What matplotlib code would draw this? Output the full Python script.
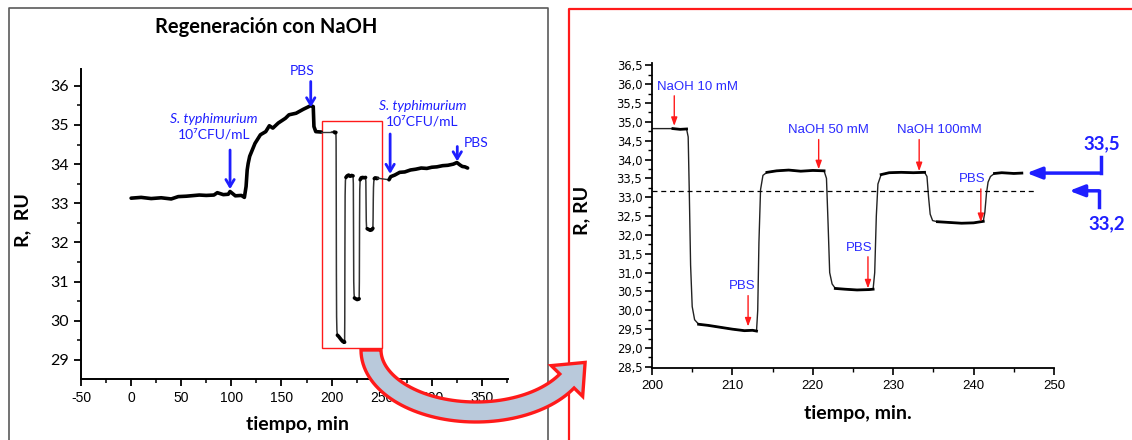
import numpy as np
import matplotlib
matplotlib.use("Agg")
import matplotlib.pyplot as plt
from matplotlib.patches import Rectangle, Polygon
from matplotlib.lines import Line2D
from matplotlib.ticker import MultipleLocator, FuncFormatter

plt.rcParams["axes.unicode_minus"] = False

# --- data ---
# full run, before regeneration (min, RU)
base_t = [0, 10, 20, 30, 40, 47, 55, 68, 75, 82.6, 86, 92, 96.9, 98.7, 104, 110, 113,
          114.7, 115.8, 116.8, 118.3, 123.6, 129, 134.3, 137.9, 141.4, 146.8, 153.9,
          157.5, 164.6, 171.7, 178.9, 181.7, 182.4, 184.2, 189.6]
base_r = [33.13, 33.15, 33.12, 33.14, 33.11, 33.17, 33.18, 33.21, 33.2, 33.21, 33.27,
          33.22, 33.23, 33.3, 33.19, 33.2, 33.15, 33.43, 33.85, 34.02, 34.2, 34.53,
          34.75, 34.83, 34.98, 34.92, 35.05, 35.17, 35.26, 35.3, 35.4, 35.49, 35.47,
          34.96, 34.83, 34.82]

# regeneration cycles (zoomed panel)
regen_t = [200.0, 202.6, 203.5, 204.3, 204.5, 204.65, 204.8, 205.0, 205.3, 205.8, 207.0,
           208.5, 210.0, 211.5, 212.5, 213.0, 213.15, 213.3, 213.5, 213.8, 214.3, 215.5,
           217.0, 218.5, 220.0, 221.4, 221.7, 221.9, 222.1, 222.4, 222.8, 224.0, 225.5,
           227.0, 227.5, 227.7, 227.9, 228.1, 228.5, 229.5, 231.0, 232.5, 233.9, 234.2,
           234.4, 234.6, 234.9, 235.5, 237.0, 238.5, 240.0, 241.2, 241.4, 241.6, 241.8,
           242.1, 242.6, 243.5, 245.0, 246.0]
regen_r = [34.82, 34.82, 34.80, 34.81, 34.6, 33.0, 31.2, 30.1, 29.75, 29.63, 29.6,
           29.55, 29.5, 29.46, 29.47, 29.45, 30.0, 31.8, 33.2, 33.58, 33.66, 33.7,
           33.72, 33.69, 33.71, 33.7, 33.5, 32.3, 31.0, 30.7, 30.58, 30.56, 30.54,
           30.55, 30.56, 31.0, 32.5, 33.35, 33.6, 33.65, 33.66, 33.65, 33.66, 33.55,
           33.0, 32.55, 32.38, 32.35, 32.33, 32.31, 32.32, 32.36, 32.6, 33.1, 33.4,
           33.55, 33.63, 33.65, 33.63, 33.64]
# stable (noisy) stretches of the regeneration trace
plateaus = [(202.6, 204.3), (205.8, 213.0), (214.3, 221.4), (222.8, 227.5),
            (228.5, 233.9), (235.5, 241.2), (242.6, 246.0)]

# after regeneration
post_t = [257.3, 259, 263, 268, 273, 278.7, 284, 289.4, 295, 300, 305, 310.8, 316,
          321.5, 325, 328, 330.4, 333, 335.7]
post_r = [33.6, 33.68, 33.72, 33.79, 33.8, 33.85, 33.87, 33.9, 33.89, 33.92, 33.93,
          33.96, 33.97, 34.0, 34.04, 33.98, 33.94, 33.93, 33.9]

baseline_ref = 33.17
zoom_box = (190, 29.3, 250, 35.09)   # t0, r0, t1, r1

blue = "#1f1fff"
tblue = "#2a2aff"
red = "#ff1a1a"

regen_t = np.array(regen_t)
regen_r = np.array(regen_r)

fig = plt.figure(figsize=(11.32, 4.4), dpi=100)
W, H = 1132, 440


def fxy(x, y):
    return x / W, 1 - y / H


# ---------------- left panel ----------------
ax1 = fig.add_axes([81 / W, (H - 379) / H, 427 / W, 310 / H])
ax1.plot(base_t, base_r, color="black", lw=2.6, solid_capstyle="round")
ax1.plot([base_t[-1], regen_t[0]], [base_r[-1], regen_r[0]], color="#333333", lw=1)
ax1.plot(regen_t, regen_r, color="#333333", lw=1.1)
for a, b in plateaus:
    m = (regen_t >= a) & (regen_t <= b)
    ax1.plot(regen_t[m], regen_r[m], color="black", lw=2.6, solid_capstyle="round")
ax1.plot([regen_t[-1], post_t[0]], [regen_r[-1], post_r[0]], color="#333333", lw=1)
ax1.plot(post_t, post_r, color="black", lw=2.6, solid_capstyle="round")

ax1.add_patch(Rectangle((zoom_box[0], zoom_box[1]), zoom_box[2] - zoom_box[0],
                        zoom_box[3] - zoom_box[1], fill=False, ec=red, lw=1))

ax1.set_xlim(-50, 376)
ax1.set_ylim(28.51, 36.43)
ax1.xaxis.set_major_locator(MultipleLocator(50))
ax1.xaxis.set_minor_locator(MultipleLocator(25))
ax1.yaxis.set_major_locator(MultipleLocator(1))
ax1.yaxis.set_minor_locator(MultipleLocator(0.5))
for s in ["top", "right"]:
    ax1.spines[s].set_visible(False)
for s in ["left", "bottom"]:
    ax1.spines[s].set_linewidth(1.4)
ax1.tick_params(which="major", direction="out", length=5, width=1.3)
ax1.tick_params(which="minor", direction="out", length=3, width=1.1)
for lab in ax1.get_xticklabels():
    lab.set_fontfamily("Liberation Sans")
    lab.set_fontsize(10)
for lab in ax1.get_yticklabels():
    lab.set_fontfamily("Lato")
    lab.set_fontsize(11.5)

left_notes = [
    (82.6, 35.16, "S. typhimurium", "italic"),
    (82.6, 34.75, "10\u2077CFU/mL", "normal"),
    (170.3, 36.39, "PBS", "normal"),
    (290.5, 35.49, "S. typhimurium", "italic"),
    (290.5, 35.09, "10\u2077CFU/mL", "normal"),
]
for t, r, s, st in left_notes:
    ax1.text(t, r, s, color=blue, fontsize=10, style=st, ha="center", va="center",
             family=["Lato", "DejaVu Sans"])
ax1.text(331.5, 34.54, "PBS", color=blue, fontsize=10, ha="left", va="center",
         family=["Lato", "DejaVu Sans"])

left_arrows = [(98.7, 34.36, 33.36), (179.2, 36.11, 35.45), (258.4, 34.77, 33.75),
               (325.4, 34.45, 34.07)]
for t, r0, r1 in left_arrows:
    ax1.annotate("", xy=(t, r1), xytext=(t, r0),
                 arrowprops=dict(arrowstyle="->,head_length=0.5,head_width=0.3",
                                 color=blue, lw=2, shrinkA=0, shrinkB=0))

fig.text(*fxy(266, 27), "Regeneración con NaOH", fontsize=14.5, fontweight="bold",
         family="Lato", ha="center", va="center")
fig.text(*fxy(23, 220), "R,  RU", fontsize=14, fontweight="bold", family="Lato",
         rotation=90, ha="center", va="center")
fig.text(*fxy(298, 424), "tiempo, min", fontsize=14, fontweight="bold", family="Lato",
         ha="center", va="center")

# ---------------- right panel ----------------
ax2 = fig.add_axes([652 / W, (H - 368) / H, 402 / W, 305 / H])
ax2.plot(regen_t, regen_r, color="#222222", lw=1)
for a, b in plateaus:
    m = (regen_t >= a) & (regen_t <= b)
    ax2.plot(regen_t[m], regen_r[m], color="black", lw=2)
ax2.plot([regen_t[0], 247.6], [baseline_ref, baseline_ref], color="black", lw=0.9,
         ls=(0, (4, 3)))

ax2.set_xlim(200, 250)
ax2.set_ylim(28.47, 36.56)
ax2.xaxis.set_major_locator(MultipleLocator(10))
ax2.xaxis.set_minor_locator(MultipleLocator(5))
ax2.yaxis.set_major_locator(MultipleLocator(0.5))
ax2.yaxis.set_minor_locator(MultipleLocator(0.25))
ax2.yaxis.set_major_formatter(FuncFormatter(lambda v, p: f"{v:.1f}".replace(".", ",")))
for s in ["top", "right"]:
    ax2.spines[s].set_visible(False)
for s in ["left", "bottom"]:
    ax2.spines[s].set_linewidth(1.3)
ax2.tick_params(which="major", direction="out", length=5, width=1.2)
ax2.tick_params(which="minor", direction="out", length=3, width=1)
ax2.tick_params(axis="y", pad=2)
for lab in ax2.get_xticklabels():
    lab.set_fontfamily("Liberation Sans")
    lab.set_fontsize(9.5)
for lab in ax2.get_yticklabels():
    lab.set_fontfamily("DejaVu Sans")
    lab.set_fontsize(8.3)

right_notes = [
    (200.6, 35.93, "NaOH 10 mM", "left"),
    (211.27, 30.65, "PBS", "center"),
    (221.95, 34.77, "NaOH 50 mM", "center"),
    (235.8, 34.77, "NaOH 100mM", "center"),
    (225.8, 31.66, "PBS", "center"),
    (239.8, 33.47, "PBS", "center"),
]
for t, r, s, ha in right_notes:
    ax2.text(t, r, s, color=tblue, fontsize=9.5, family="Liberation Sans", ha=ha,
             va="center")
right_arrows = [(202.77, 35.69, 34.89), (211.95, 30.39, 29.57), (220.73, 34.53, 33.74),
                (233.23, 34.53, 33.69), (226.86, 31.42, 30.58), (240.9, 33.22, 32.34)]
for t, r0, r1 in right_arrows:
    ax2.annotate("", xy=(t, r1), xytext=(t, r0),
                 arrowprops=dict(arrowstyle="-|>,head_length=0.5,head_width=0.18",
                                 color=red, lw=1, shrinkA=0, shrinkB=0))

# level markers right of the plot
ax2.plot([255.85, 255.85], [34.07, regen_r[-1]], color=blue, lw=2.5, clip_on=False)
ax2.annotate("", xy=(246.6, regen_r[-1]), xytext=(255.85, regen_r[-1]),
             arrowprops=dict(arrowstyle="-|>,head_length=0.9,head_width=0.35",
                             color=blue, lw=2.5, shrinkA=0, shrinkB=0),
             annotation_clip=False)
ax2.plot([255.6, 255.6], [32.75, baseline_ref], color=blue, lw=2.5, clip_on=False)
ax2.annotate("", xy=(251.9, baseline_ref), xytext=(255.6, baseline_ref),
             arrowprops=dict(arrowstyle="-|>,head_length=0.9,head_width=0.35",
                             color=blue, lw=2.5, shrinkA=0, shrinkB=0),
             annotation_clip=False)
ax2.text(255.9, 34.43, "33,5", color=blue, fontsize=13.5, fontweight="bold",
         family="Lato", ha="center", va="center", clip_on=False)
ax2.text(256.5, 32.3, "33,2", color=blue, fontsize=13.5, fontweight="bold",
         family="Lato", ha="center", va="center", clip_on=False)

fig.text(*fxy(582, 210), "R, RU", fontsize=14, fontweight="bold", family="Lato",
         rotation=90, ha="center", va="center")
fig.text(*fxy(858, 413), "tiempo, min.", fontsize=14, fontweight="bold", family="Lato",
         ha="center", va="center")

# ---------------- frames and connector arrow ----------------
fig.add_artist(Line2D([9 / W, 9 / W, 548 / W, 548 / W], [0, 1 - 8.3 / H, 1 - 8.3 / H, 0],
                      transform=fig.transFigure, color="#5a5a5a", lw=1.2))
fig.add_artist(Line2D([569 / W, 569 / W, 1], [0, 1 - 9 / H, 1 - 9 / H],
                      transform=fig.transFigure, color=red, lw=1.6))

# curved block arrow from the zoom box to the zoomed panel (pixel geometry)
cx, cy, ea, eb = 476, 350, 105, 62
th = np.radians(np.linspace(180, 330, 60))
px = cx + ea * np.cos(th)
py = cy - eb * np.sin(th)
tx = -ea * np.sin(th)
ty = -eb * np.cos(th)
tn = np.hypot(tx, ty)
tx, ty = tx / tn, ty / tn
nx, ny = -ty, tx
hw, hh, hl = 10, 22, 26
side1 = np.column_stack([px + nx * hw, py + ny * hw])
side2 = np.column_stack([px - nx * hw, py - ny * hw])[::-1]
head = np.array([[px[-1] + nx[-1] * hh, py[-1] + ny[-1] * hh],
                 [px[-1] + tx[-1] * hl, py[-1] + ty[-1] * hl],
                 [px[-1] - nx[-1] * hh, py[-1] - ny[-1] * hh]])
shape = np.vstack([side1, head, side2])
shape = np.column_stack([shape[:, 0] / W, 1 - shape[:, 1] / H])
fig.add_artist(Polygon(shape, closed=True, transform=fig.transFigure,
                       fc="#b9c9db", ec=red, lw=2.4, zorder=20))

fig.savefig("out.png", dpi=100)
